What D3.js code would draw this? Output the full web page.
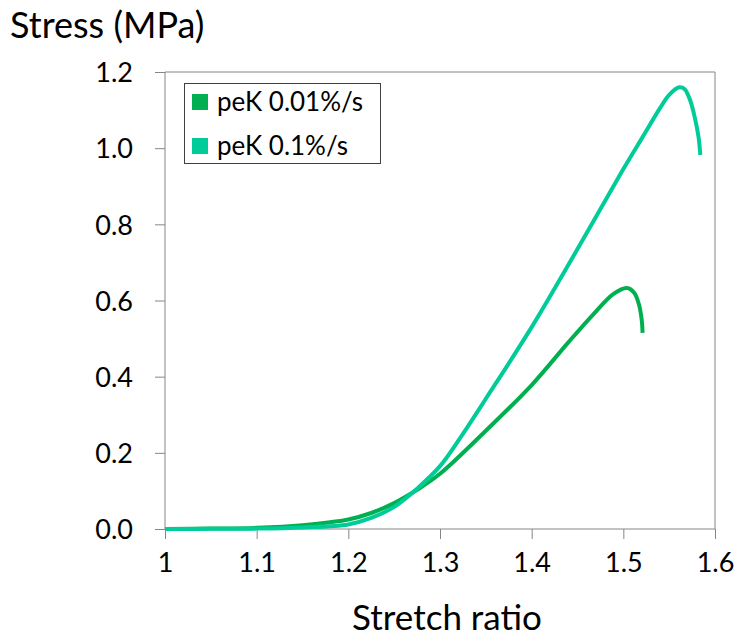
<!DOCTYPE html>
<html lang="en">
<head>
<meta charset="UTF-8">
<script src="https://d3js.org/d3.v7.min.js"></script>
<title>Stress vs Stretch ratio</title>
<style>
  body { margin: 0; background: #fff; }
  text { font-family: Lato, "Noto Sans", sans-serif; fill: #000; }
</style>
</head>
<body>
<div id="chart"></div>
<script>
// data
const seriesNames = ["peK 0.01%/s", "peK 0.1%/s"];
const seriesColors = ["#00B050", "#00CC99"];

const slowX = [1.0, 1.05, 1.1, 1.15, 1.2, 1.225, 1.25, 1.275, 1.3, 1.35, 1.4, 1.44, 1.467, 1.489, 1.504, 1.512, 1.517, 1.52, 1.521];
const slowY = [0, 0.001, 0.003, 0.01, 0.025, 0.042, 0.068, 0.103, 0.145, 0.258, 0.378, 0.49, 0.563, 0.617, 0.633, 0.62, 0.59, 0.55, 0.515];

const fastX = [1.0, 1.05, 1.1, 1.15, 1.2, 1.225, 1.25, 1.275, 1.3, 1.325, 1.35, 1.4, 1.45, 1.5, 1.52, 1.54, 1.55, 1.561, 1.567, 1.573, 1.578, 1.582, 1.584];
const fastY = [0, 0.0005, 0.001, 0.004, 0.012, 0.029, 0.058, 0.106, 0.165, 0.25, 0.342, 0.53, 0.735, 0.945, 1.025, 1.105, 1.14, 1.16, 1.155, 1.125, 1.08, 1.03, 0.982];

const xTicks = [1, 1.1, 1.2, 1.3, 1.4, 1.5, 1.6];
const yTicks = [0, 0.2, 0.4, 0.6, 0.8, 1.0, 1.2];

const width = 739, height = 641;
const svg = d3.select("#chart").append("svg")
    .attr("width", width).attr("height", height);

const x = d3.scaleLinear().domain([1, 1.6]).range([165, 715]);
const y = d3.scaleLinear().domain([0, 1.2]).range([529, 72]);
const axisColor = "#868686";

// plot frame (top / right)
svg.append("path")
    .attr("d", `M${x(1)},${y(1.2)}H${x(1.6)}V${y(0)}`)
    .attr("fill", "none").attr("stroke", axisColor).attr("stroke-width", 1);

// x axis
const xAxis = svg.append("g").attr("transform", `translate(0,${y(0)})`)
    .call(d3.axisBottom(x).tickValues(xTicks).tickSize(10).tickPadding(14)
        .tickFormat(d3.format("")));
// y axis
const yAxis = svg.append("g").attr("transform", `translate(${x(1)},0)`)
    .call(d3.axisLeft(y).tickValues(yTicks).tickSize(10).tickPadding(22)
        .tickFormat(d3.format(".1f")));

[xAxis, yAxis].forEach(g => {
  g.select(".domain").remove();
  g.selectAll(".tick line").attr("stroke", axisColor);
  g.selectAll(".tick text").attr("font-size", "27px").attr("font-family", "Lato");
});
xAxis.append("line").attr("x1", x(1)).attr("x2", x(1.6)).attr("stroke", axisColor);
yAxis.append("line").attr("y1", y(0)).attr("y2", y(1.2)).attr("stroke", axisColor);
xAxis.selectAll(".tick text").attr("dy", "0.71em");
yAxis.selectAll(".tick text").attr("dy", "0.36em");

// curves
const line = d3.line()
    .x(d => x(d[0])).y(d => y(d[1]))
    .curve(d3.curveCatmullRom.alpha(0.5));

const seriesData = [
  slowX.map((v, i) => [v, slowY[i]]),
  fastX.map((v, i) => [v, fastY[i]])
];

seriesData.forEach((s, i) => {
  svg.append("path")
      .datum(s)
      .attr("d", line)
      .attr("fill", "none")
      .attr("stroke", seriesColors[i])
      .attr("stroke-width", 4)
      .attr("stroke-linejoin", "round");
});

// axis titles
svg.append("text").attr("x", 10).attr("y", 38)
    .attr("font-size", "36px").text("Stress (MPa)");
svg.append("text").attr("x", 447).attr("y", 630)
    .attr("text-anchor", "middle")
    .attr("font-size", "35px").text("Stretch ratio");

// legend
const legend = svg.append("g");
legend.append("rect")
    .attr("x", 184.5).attr("y", 83.5).attr("width", 196).attr("height", 80)
    .attr("fill", "#fff").attr("stroke", "#404040").attr("stroke-width", 1);
seriesNames.forEach((name, i) => {
  const cy = 102 + i * 44;
  legend.append("rect")
      .attr("x", 192).attr("y", cy - 8).attr("width", 16).attr("height", 16)
      .attr("fill", seriesColors[i]);
  legend.append("text")
      .attr("x", 217).attr("y", cy).attr("dy", "0.36em")
      .attr("font-size", "26px").text(name);
});
</script>
</body>
</html>
